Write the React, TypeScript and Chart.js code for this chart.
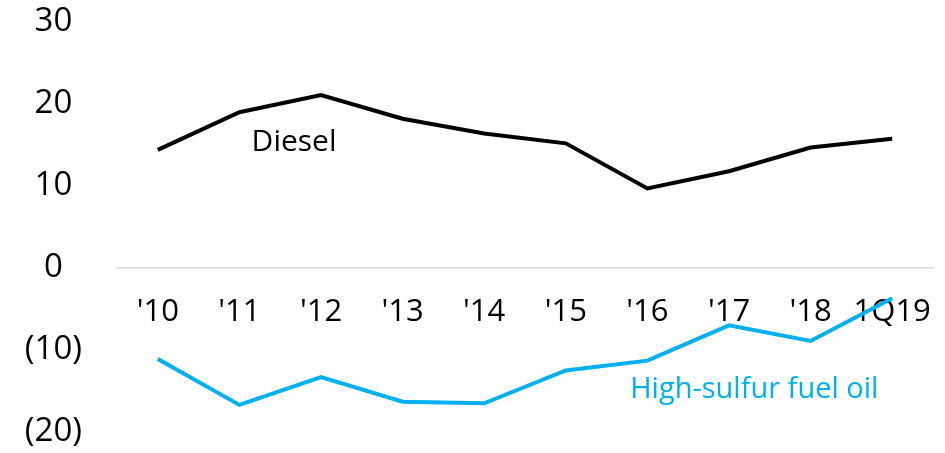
import React, { useEffect, useRef } from "react";
import { Chart, registerables } from "chart.js";

Chart.register(...registerables);

const categories = ["'10", "'11", "'12", "'13", "'14", "'15", "'16", "'17", "'18", "1Q19"];
const dieselValues = [14.4, 19.0, 21.1, 18.2, 16.4, 15.2, 9.7, 11.8, 14.7, 15.75];
const hsfoValues = [-11.1, -16.7, -13.3, -16.3, -16.5, -12.5, -11.3, -7.0, -8.9, -3.7];
const yTicks = [-20, -10, 0, 10, 20, 30];

const FONT = "'Open Sans', 'Noto Sans', sans-serif";
const BLUE = "#00B0F0";

const seriesLabels = {
  id: "seriesLabels",
  afterDatasetsDraw(chart: any) {
    const { ctx, scales } = chart;
    const x = scales.x;
    const y = scales.y;
    ctx.save();
    ctx.textBaseline = "alphabetic";
    ctx.textAlign = "center";
    ctx.font = `30px ${FONT}`;
    ctx.fillStyle = "#000";
    ctx.fillText("Diesel", x.getPixelForValue(1.67), y.getPixelForValue(14.3));
    ctx.font = `29px ${FONT}`;
    ctx.fillStyle = BLUE;
    ctx.fillText("High-sulfur fuel oil", x.getPixelForValue(7.31), y.getPixelForValue(-15.9));
    ctx.restore();
  },
};

export default function App() {
  const ref = useRef<HTMLCanvasElement>(null);
  useEffect(() => {
    const chart = new Chart(ref.current!, {
      type: "line",
      data: {
        labels: categories,
        datasets: [
          {
            label: "Diesel",
            data: dieselValues,
            borderColor: "#000",
            borderWidth: 4,
            pointRadius: 0,
            tension: 0,
          },
          {
            label: "High-sulfur fuel oil",
            data: hsfoValues,
            borderColor: BLUE,
            borderWidth: 4,
            pointRadius: 0,
            tension: 0,
          },
        ],
      },
      options: {
        responsive: false,
        animation: false,
        layout: { padding: { top: 22, bottom: 21, right: 12, left: 0 } },
        plugins: { legend: { display: false }, tooltip: { enabled: false } },
        scales: {
          x: {
            position: { y: 0 } as any,
            offset: true,
            afterFit(scale: any) {
              scale.paddingLeft = 0;
              scale.paddingRight = 0;
              scale.paddingTop = 0;
              scale.paddingBottom = 0;
            },
            grid: { display: false, drawTicks: false },
            border: { display: true, color: "#d9d9d9", width: 1.5 },
            ticks: {
              color: "#000",
              font: { family: FONT, size: 31 },
              padding: 26,
              maxRotation: 0,
              autoSkip: false,
            },
          },
          y: {
            min: -20,
            max: 30,
            afterBuildTicks(scale: any) {
              scale.ticks = yTicks.map((v) => ({ value: v }));
            },
            afterFit(scale: any) {
              scale.width = 117;
              scale.paddingTop = 0;
              scale.paddingBottom = 0;
              scale.paddingLeft = 0;
              scale.paddingRight = 0;
            },
            grid: { display: false, drawTicks: false },
            border: { display: false },
            ticks: {
              color: "#000",
              crossAlign: "center",
              padding: 35,
              font: { family: FONT, size: 33 },
              callback: (v: any) => (v < 0 ? `(${Math.abs(v)})` : `${v}`),
            },
          },
        },
      },
      plugins: [seriesLabels],
    });
    return () => chart.destroy();
  }, []);
  return (
    <div style={{ position: "fixed", left: 0, top: 0, width: 945, height: 453, background: "#fff" }}>
      <canvas ref={ref} width={945} height={453} style={{ display: "block" }} />
    </div>
  );
}
